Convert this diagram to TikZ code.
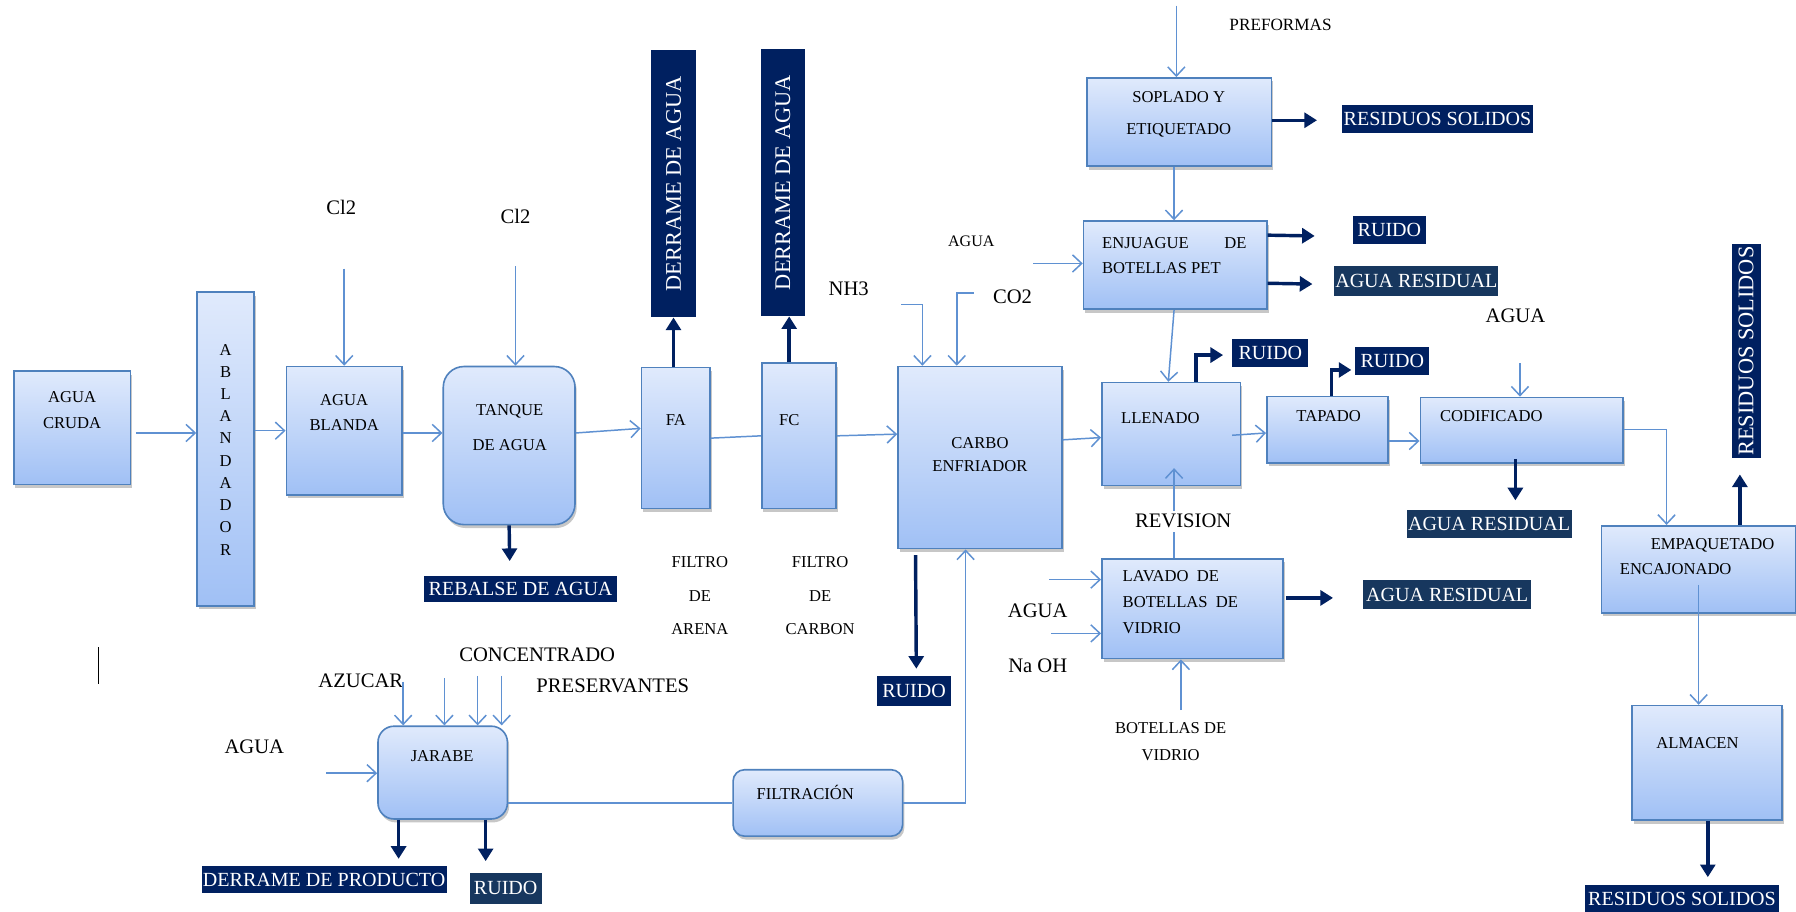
\documentclass[tikz,border=0pt]{standalone}
\usepackage{fontspec}
\setmainfont{Liberation Serif}
\usepackage{graphicx}
\usetikzlibrary{arrows.meta,calc,shadows}
\definecolor{navy}{RGB}{0,32,96}
\definecolor{navyb}{RGB}{23,55,94}
\definecolor{bord}{RGB}{79,129,189}
\definecolor{conncol}{RGB}{95,145,210}
\definecolor{gtop}{RGB}{224,234,252}
\definecolor{gbot}{RGB}{160,192,245}
\tikzset{
 procbox/.style={draw=bord, line width=1.4pt, top color=gtop, bottom color=gbot, inner sep=0pt,
   drop shadow={shadow xshift=1.5pt, shadow yshift=-3pt, fill=black, opacity=0.22}},
 btxt/.style={font=\fontsize{14.5}{22}\selectfont, align=center, inner sep=0pt, text=black},
 lbl/.style={font=\fontsize{18}{22}\selectfont, inner sep=0pt},
 slbl/.style={font=\fontsize{14}{22}\selectfont, inner sep=0pt},
 darkbox/.style={fill=navy, text=white, inner sep=0pt, font=\fontsize{17.5}{20}\selectfont},
 vdarkbox/.style={darkbox, font=\fontsize{19.5}{22}\selectfont},
 conn/.style={draw=conncol, line width=1.3pt, -{Straight Barb[length=8pt,width=15pt]}},
 plainconn/.style={draw=conncol, line width=1.3pt},
 darr/.style={draw=navy, line width=3pt, -{Triangle[length=11pt,width=13pt]}},
}
\begin{document}
\begin{tikzpicture}[x=1pt,y=-1pt]
\path[use as bounding box, fill=white] (0,0) rectangle (1568,796);

% process boxes
\node[procbox, minimum width=102pt, minimum height=99pt] (cruda) at (63,373.5) {};
\node[procbox, minimum width=50pt, minimum height=274pt] (ablan) at (197,392) {};
\node[procbox, minimum width=101pt, minimum height=112pt] (blanda) at (300.5,376) {};
\node[procbox, rounded corners=18pt, minimum width=115pt, minimum height=138pt] (tanque) at (444.5,389) {};
\node[procbox, minimum width=60pt, minimum height=123pt] (fa) at (590,382.5) {};
\node[procbox, minimum width=65pt, minimum height=127pt] (fc) at (697.5,380.5) {};
\node[procbox, minimum width=143pt, minimum height=159pt] (carbo) at (855.5,399.5) {};
\node[procbox, minimum width=161pt, minimum height=77pt] (soplado) at (1029.5,106.5) {};
\node[procbox, minimum width=160pt, minimum height=77pt] (enjuague) at (1026,231.5) {};
\node[procbox, minimum width=121pt, minimum height=90pt] (llenado) at (1022.5,379) {};
\node[procbox, minimum width=106pt, minimum height=58pt] (tapado) at (1159,375) {};
\node[procbox, minimum width=177pt, minimum height=57pt] (codif) at (1328.5,375.5) {};
\node[procbox, minimum width=158pt, minimum height=87pt] (lavado) at (1041,531.5) {};
\node[procbox, minimum width=170pt, minimum height=76pt] (empaq) at (1483,497) {};
\node[procbox, minimum width=131pt, minimum height=100pt] (almacen) at (1490.5,666) {};
\node[procbox, rounded corners=14pt, minimum width=113pt, minimum height=81pt] (jarabe) at (386.5,674.5) {};
\node[procbox, rounded corners=10pt, minimum width=148pt, minimum height=58pt] (filtr) at (714,701) {};

% dark output labels
\node[vdarkbox, minimum width=40pt, minimum height=233pt] (d1) at (588,160.5) {\rotatebox{90}{DERRAME DE AGUA}};
\node[vdarkbox, minimum width=39pt, minimum height=233pt] (d2) at (683.5,159.5) {\rotatebox{90}{DERRAME DE AGUA}};
\node[darkbox, minimum width=169pt, minimum height=23pt] (rebalse) at (454.5,514.5) {REBALSE DE AGUA};
\node[darkbox, minimum width=166pt, minimum height=24pt] (resid1) at (1255,104) {RESIDUOS SOLIDOS};
\node[darkbox, minimum width=64pt, minimum height=24pt] (ruido1) at (1213,201) {RUIDO};
\node[darkbox, fill=navyb, minimum width=143pt, minimum height=26pt] (agres1) at (1236.5,245) {AGUA RESIDUAL};
\node[darkbox, minimum width=66pt, minimum height=24pt] (ruido2) at (1109,308) {RUIDO};
\node[darkbox, minimum width=65pt, minimum height=24pt] (ruido3) at (1215.5,315) {RUIDO};
\node[darkbox, fill=navyb, minimum width=144pt, minimum height=25pt] (agres2) at (1300,457.5) {AGUA RESIDUAL};
\node[darkbox, fill=navyb, minimum width=147pt, minimum height=26pt] (agres3) at (1263.5,519) {AGUA RESIDUAL};
\node[vdarkbox, minimum width=25pt, minimum height=187pt] (resid2) at (1524.5,306.5) {\rotatebox{90}{RESIDUOS SOLIDOS}};
\node[darkbox, minimum width=64pt, minimum height=26pt] (ruido4) at (798,603) {RUIDO};
\node[darkbox, minimum width=214pt, minimum height=24pt] (derprod) at (283,768) {DERRAME DE PRODUCTO};
\node[darkbox, fill=navyb, minimum width=63pt, minimum height=27pt] (ruido5) at (441.5,775.5) {RUIDO};
\node[darkbox, minimum width=169pt, minimum height=23pt] (resid3) at (1468.5,784.5) {RESIDUOS SOLIDOS};

% plain labels
\node[lbl] (cl2a) at (298,181) {Cl2};
\node[lbl] (cl2b) at (450,189) {Cl2};
\node[slbl, font=\fontsize{15}{22}\selectfont] (pref) at (1118,22) {PREFORMAS};
\node[slbl] (agua1) at (848,211) {AGUA};
\node[lbl] (nh3) at (741,252) {NH3};
\node[lbl] (co2) at (884,259) {CO2};
\node[lbl] (agua2) at (1323,276) {AGUA};
\node[btxt, font=\fontsize{14.5}{29}\selectfont] (filA) at (611,520) {FILTRO\\DE\\ARENA};
\node[btxt, font=\fontsize{14.5}{29}\selectfont] (filC) at (716,520) {FILTRO\\DE\\CARBON};
\node[lbl] (aguaL) at (906,533) {AGUA};
\node[lbl] (naoh) at (906,581) {Na OH};
\node[btxt, font=\fontsize{14.5}{23}\selectfont] (botellas) at (1022,647.5) {BOTELLAS DE\\VIDRIO};
\node[lbl] (conc) at (469,572) {CONCENTRADO};
\node[lbl] (azucar) at (315,594) {AZUCAR};
\node[lbl] (pres) at (535,599) {PRESERVANTES};
\node[lbl] (aguaJ) at (222,652) {AGUA};

% free ends
\coordinate (nh3in) at (787,266);
\coordinate (co2in) at (850,256);
\coordinate (aguain1) at (902,230);
\coordinate (prefin) at (1027,5);
\coordinate (lavin1) at (916,506);
\coordinate (lavin2) at (918,553);
\coordinate (botin) at (1031,620);
\coordinate (jarin) at (285,675);
\coordinate (jin1) at (352,595);
\coordinate (jin2) at (388,592);
\coordinate (jin3) at (417,590);
\coordinate (jin4) at (438,590);

% light connectors
\draw[conn] ($(cruda.east)+(4,4.5)$) -- ($(ablan.west)+(0,-14)$);
\draw[conn] ($(ablan.east)+(0,-16)$) -- (blanda.west);
\draw[conn] ($(blanda.east)+(0,2)$) -- ($(tanque.west)+(0,-11)$);
\draw[conn, shorten <=47pt] (cl2a.south -| blanda.north) -- (blanda.north);
\draw[conn, shorten <=37pt] (cl2b.south) -- (cl2b.south |- tanque.north);
\draw[conn] ($(tanque.east)+(0,-11)$) -- ($(fa.west)+(0,-8.5)$);
\draw[plainconn] (fa.east) -- (fc.west);
\draw[conn] (fc.east) -- ($(carbo.west)+(0,-20.5)$);
\draw[conn] (nh3in) -| ($(carbo.north west)+(22,0)$);
\draw[conn] (co2in) -| ($(carbo.north west)+(52,0)$);
\draw[conn] (aguain1) -- (aguain1 -| enjuague.west);
\draw[conn] (prefin) -- (prefin |- soplado.north);
\draw[conn] ($(soplado.south)+(-4.5,0)$) -- ($(enjuague.north)+(-1,0)$);
\draw[conn] ($(enjuague.south)+(-1,0)$) -- ($(llenado.north)+(-2.5,0)$);
\draw[conn] ($(carbo.east)+(0,-15.5)$) -- ($(llenado.west)+(0,3)$);
\draw[conn] ($(llenado.east)+(-8,1)$) -- ($(tapado.west)+(0,3)$);
\draw[conn] ($(tapado.east)+(0,10)$) -- ($(codif.west)+(0,9.5)$);
\draw[conn, shorten <=35pt] ($(agua2.south)+(4,0)$) -- ($(codif.north)+(-1.5,0)$);
\draw[conn] ($(codif.east)+(0,-0.5)$) -| ($(empaq.north)+(-28,0)$);
\draw[conn] ($(empaq.south)+(0,-25)$) -- ($(almacen.north)+(-7.5,0)$);
\draw[conn] ($(lavado.north)+(-16,0)$) -- ($(llenado.south)+(2.5,-16)$);
\draw[conn] (lavin1) -- (lavin1 -| lavado.west);
\draw[conn] (lavin2) -- (lavin2 -| lavado.west);
\draw[conn] (botin) -- (botin |- lavado.south);
\draw[conn] (filtr.east) -| ($(carbo.south)+(-12.5,0)$);
\draw[plainconn] ($(jarabe.east)+(0,26.5)$) -- (filtr.west);
\draw[conn] (jarin) -- (jarin -| jarabe.west);
\draw[conn] (jin1) -- (jin1 |- jarabe.north);
\draw[conn] (jin2) -- (jin2 |- jarabe.north);
\draw[conn] (jin3) -- (jin3 |- jarabe.north);
\draw[conn] (jin4) -- (jin4 |- jarabe.north);

% dark output arrows
\draw[darr] ($(soplado.east)+(0,-1.5)$) -- ($(resid1.west)+(-22,1)$);
\draw[darr] ($(enjuague.north east)+(0,13)$) -- ($(ruido1.west)+(-33,5)$);
\draw[darr] ($(enjuague.north east)+(0,55)$) -- ($(agres1.west)+(-19,3)$);
\draw[darr] ($(llenado.north west)+(83,0)$) |- ($(ruido2.west)+(-8,2)$);
\draw[darr] ($(tapado.north west)+(57,0)$) |- ($(ruido3.west)+(-3,8)$);
\draw[darr] ($(codif.south)+(-5.5,-4)$) -- ($(agres2.north)+(23,-8)$);
\draw[darr] ($(empaq.north)+(36,0)$) -- ($(resid2.south)+(-5.5,14)$);
\draw[darr] ($(almacen.south)+(0.5,0)$) -- ($(resid3.north)+(22.5,-7)$);
\draw[darr] ($(lavado.east)+(2,-9.5)$) -- ($(agres3.west)+(-26,3)$);
\draw[darr] ($(carbo.south west)+(16,5)$) -- ($(ruido4.north)+(2,-6)$);
\draw[darr] (tanque.south) -- ($(rebalse.north)+(-9.5,-13)$);
\draw[darr] ($(fa.north)+(-2,0)$) -- (d1.south);
\draw[darr] ($(fc.north)+(-8.5,0)$) -- ($(d2.south)+(5.5,0)$);
\draw[darr] ($(jarabe.south)+(-38.5,0)$) -- ($(derprod.north)+(65,-6)$);
\draw[darr] ($(jarabe.south)+(37.5,0)$) -- ($(ruido5.north)+(-17.5,-10)$);

% texts inside boxes
\node[btxt] (tcruda) at (63,358) {AGUA\\CRUDA};
\node[btxt, font=\fontsize{14.5}{19.4}\selectfont] (tablan) at (197,392.5) {A\\B\\L\\A\\N\\D\\A\\D\\O\\R};
\node[btxt] (tblanda) at (300.5,360) {AGUA\\BLANDA};
\node[btxt, font=\fontsize{14.5}{31}\selectfont] (ttanque) at (445,373.5) {TANQUE\\DE AGUA};
\node[btxt] (tfa) at (590,367) {FA};
\node[btxt] (tfc) at (689,367) {FC};
\node[btxt, font=\fontsize{14.5}{20}\selectfont] (tcarbo) at (855.5,397) {CARBO\\ENFRIADOR};
\node[btxt, font=\fontsize{14.5}{28}\selectfont] (tsoplado) at (1029,100) {SOPLADO Y\\ETIQUETADO};
\node[btxt, anchor=west, align=left] (tenjuague) at (962,223) {\makebox[126pt][s]{ENJUAGUE DE}\\BOTELLAS PET};
\node[btxt] (tllenado) at (1013,365) {LLENADO};
\node[btxt] (ttapado) at (1160,363) {TAPADO};
\node[btxt] (tcodif) at (1302,363) {CODIFICADO};
\node[btxt, anchor=west, align=left, font=\fontsize{14.5}{22.5}\selectfont] (tlavado) at (980,525.5) {LAVADO\ \ DE\\BOTELLAS\ \ DE\\VIDRIO};
\node[btxt, anchor=west, align=left] (tempaq) at (1414,486) {\hspace*{27pt}EMPAQUETADO\\ENCAJONADO};
\node[btxt] (talmacen) at (1482,649) {ALMACEN};
\node[btxt] (tjarabe) at (386,660) {JARABE};
\node[btxt] (tfiltr) at (703,692) {FILTRACIÓN};
\node[lbl, fill=white, inner sep=3pt] (revision) at (1033,455) {REVISION};

% stray cursor mark
\draw[line width=1.4pt] (86,565) -- (86,597);
\end{tikzpicture}
\end{document}
